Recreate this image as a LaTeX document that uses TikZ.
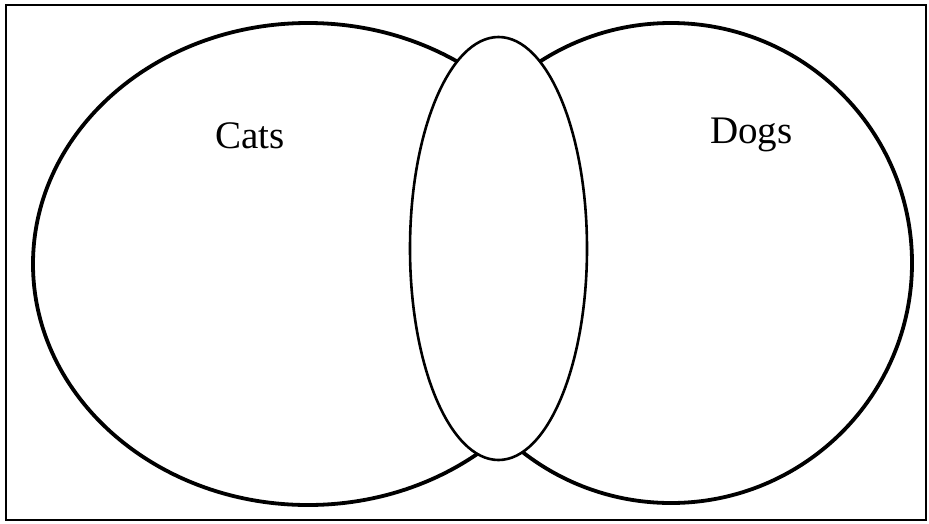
\documentclass[tikz,border=0pt]{standalone}
\usepackage{fontspec}
\setmainfont{Liberation Serif}
\begin{document}
\begin{tikzpicture}[x=1pt,y=-1pt,
  setline/.style={line width=3.8pt},
  midline/.style={line width=2.6pt, fill=white},
  frameline/.style={line width=2.4pt},
  lbl/.style={font=\fontsize{39}{44}\selectfont, inner sep=0pt, anchor=base west}]
\useasboundingbox (0,0) rectangle (929,523);
\draw[frameline] (6,5) rectangle (926,520);
\draw[setline] (308,264) ellipse [x radius=275, y radius=241];
\draw[setline] (671,263) ellipse [x radius=241, y radius=240];
\draw[midline] (498.5,248.5) ellipse [x radius=88.5, y radius=211.5];
\node[lbl] (cats) at (215,148) {Cats};
\node[lbl] (dogs) at (710,143) {Dogs};
\end{tikzpicture}
\end{document}
